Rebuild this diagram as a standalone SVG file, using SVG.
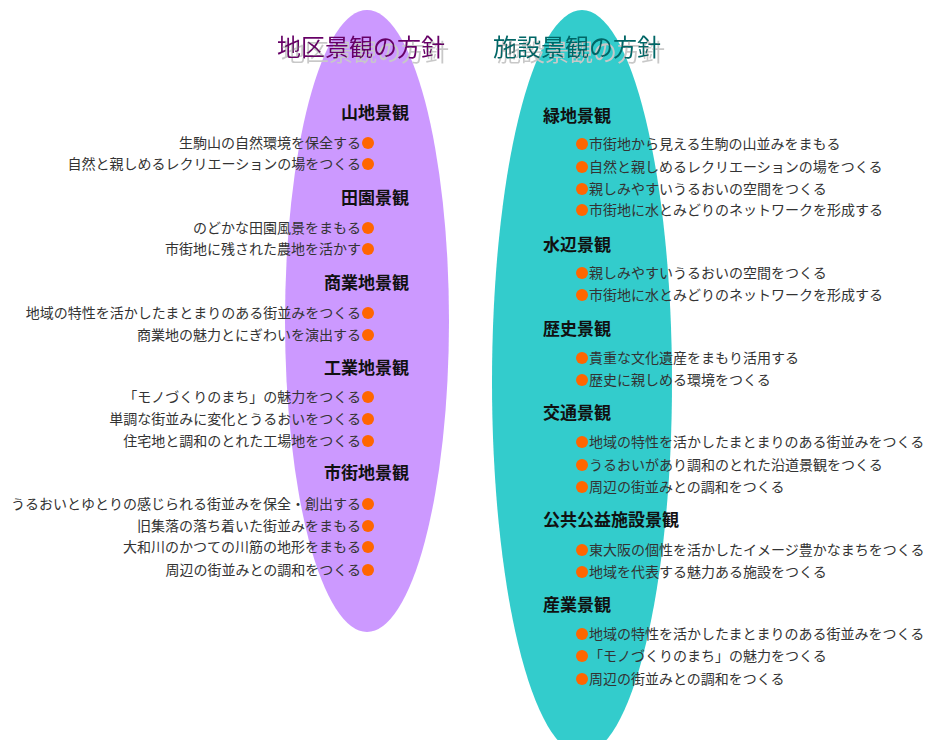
<svg xmlns="http://www.w3.org/2000/svg" width="928" height="740" viewBox="0 0 928 740">
<style>
text{font-family:"Noto Sans CJK JP","Noto Sans CJK SC",sans-serif;dominant-baseline:central}
.t{font-size:24px;filter:url(#shadow)}
.h{font-size:17px;font-weight:bold;fill:#111}
.i{font-size:14px;fill:#333}
.l{text-anchor:end}
.d{fill:#ff6600}
</style>
<defs>
<filter id="shadow" x="-10%" y="-30%" width="130%" height="170%">
<feOffset in="SourceAlpha" dx="4" dy="5" result="o"/>
<feFlood flood-color="#c8c8c8"/>
<feComposite in2="o" operator="in" result="s"/>
<feMerge><feMergeNode in="s"/><feMergeNode in="SourceGraphic"/></feMerge>
</filter>
</defs>
<rect width="928" height="740" fill="#fff"/>
<g id="ellipses">
<ellipse id="left-ellipse" cx="367" cy="321" rx="82" ry="311" fill="#cc99ff"/>
<ellipse id="right-ellipse" cx="582" cy="382" rx="90" ry="372" fill="#33cccc"/>
</g>
<g id="title-left">
<text class="t" x="277" y="45" fill="#660066">地区景観の方針</text>
</g>
<g id="title-right">
<text class="t" x="493" y="45" fill="#006666">施設景観の方針</text>
</g>
<g id="left-groups">
<g id="sanchi">
<text class="h l" x="409" y="111">山地景観</text>
<text class="i l" x="361" y="142">生駒山の自然環境を保全する</text><circle class="d" cx="368" cy="143" r="6"/>
<text class="i l" x="361" y="163">自然と親しめるレクリエーションの場をつくる</text><circle class="d" cx="368" cy="164" r="6"/>
</g>
<g id="den-en">
<text class="h l" x="409" y="196">田園景観</text>
<text class="i l" x="361" y="227">のどかな田園風景をまもる</text><circle class="d" cx="368" cy="228" r="6"/>
<text class="i l" x="361" y="248">市街地に残された農地を活かす</text><circle class="d" cx="368" cy="249" r="6"/>
</g>
<g id="shogyo">
<text class="h l" x="409" y="281">商業地景観</text>
<text class="i l" x="361" y="312">地域の特性を活かしたまとまりのある街並みをつくる</text><circle class="d" cx="368" cy="313" r="6"/>
<text class="i l" x="361" y="334">商業地の魅力とにぎわいを演出する</text><circle class="d" cx="368" cy="335" r="6"/>
</g>
<g id="kogyo">
<text class="h l" x="409" y="366">工業地景観</text>
<text class="i l" x="361" y="396">「モノづくりのまち」の魅力をつくる</text><circle class="d" cx="368" cy="397" r="6"/>
<text class="i l" x="361" y="418">単調な街並みに変化とうるおいをつくる</text><circle class="d" cx="368" cy="419" r="6"/>
<text class="i l" x="361" y="440">住宅地と調和のとれた工場地をつくる</text><circle class="d" cx="368" cy="441" r="6"/>
</g>
<g id="shigaichi">
<text class="h l" x="409" y="471">市街地景観</text>
<text class="i l" x="361" y="503">うるおいとゆとりの感じられる街並みを保全・創出する</text><circle class="d" cx="368" cy="504" r="6"/>
<text class="i l" x="361" y="525">旧集落の落ち着いた街並みをまもる</text><circle class="d" cx="368" cy="526" r="6"/>
<text class="i l" x="361" y="546">大和川のかつての川筋の地形をまもる</text><circle class="d" cx="368" cy="547" r="6"/>
<text class="i l" x="361" y="569">周辺の街並みとの調和をつくる</text><circle class="d" cx="368" cy="570" r="6"/>
</g>
</g>
<g id="right-groups">
<g id="ryokuchi">
<text class="h" x="543" y="114">緑地景観</text>
<circle class="d" cx="582" cy="144" r="6"/><text class="i" x="589" y="143">市街地から見える生駒の山並みをまもる</text>
<circle class="d" cx="582" cy="167" r="6"/><text class="i" x="589" y="166">自然と親しめるレクリエーションの場をつくる</text>
<circle class="d" cx="582" cy="189" r="6"/><text class="i" x="589" y="188">親しみやすいうるおいの空間をつくる</text>
<circle class="d" cx="582" cy="210" r="6"/><text class="i" x="589" y="209">市街地に水とみどりのネットワークを形成する</text>
</g>
<g id="suihen">
<text class="h" x="543" y="243">水辺景観</text>
<circle class="d" cx="582" cy="273" r="6"/><text class="i" x="589" y="272">親しみやすいうるおいの空間をつくる</text>
<circle class="d" cx="582" cy="295" r="6"/><text class="i" x="589" y="294">市街地に水とみどりのネットワークを形成する</text>
</g>
<g id="rekishi">
<text class="h" x="543" y="327">歴史景観</text>
<circle class="d" cx="582" cy="358" r="6"/><text class="i" x="589" y="357">貴重な文化遺産をまもり活用する</text>
<circle class="d" cx="582" cy="380" r="6"/><text class="i" x="589" y="379">歴史に親しめる環境をつくる</text>
</g>
<g id="kotsu">
<text class="h" x="543" y="411">交通景観</text>
<circle class="d" cx="582" cy="442" r="6"/><text class="i" x="589" y="441">地域の特性を活かしたまとまりのある街並みをつくる</text>
<circle class="d" cx="582" cy="465" r="6"/><text class="i" x="589" y="464">うるおいがあり調和のとれた沿道景観をつくる</text>
<circle class="d" cx="582" cy="487" r="6"/><text class="i" x="589" y="486">周辺の街並みとの調和をつくる</text>
</g>
<g id="kokyo">
<text class="h" x="543" y="518">公共公益施設景観</text>
<circle class="d" cx="582" cy="550" r="6"/><text class="i" x="589" y="549">東大阪の個性を活かしたイメージ豊かなまちをつくる</text>
<circle class="d" cx="582" cy="572" r="6"/><text class="i" x="589" y="571">地域を代表する魅力ある施設をつくる</text>
</g>
<g id="sangyo">
<text class="h" x="543" y="603">産業景観</text>
<circle class="d" cx="582" cy="634" r="6"/><text class="i" x="589" y="633">地域の特性を活かしたまとまりのある街並みをつくる</text>
<circle class="d" cx="582" cy="656" r="6"/><text class="i" x="589" y="655">「モノづくりのまち」の魅力をつくる</text>
<circle class="d" cx="582" cy="679" r="6"/><text class="i" x="589" y="678">周辺の街並みとの調和をつくる</text>
</g>
</g>
</svg>
